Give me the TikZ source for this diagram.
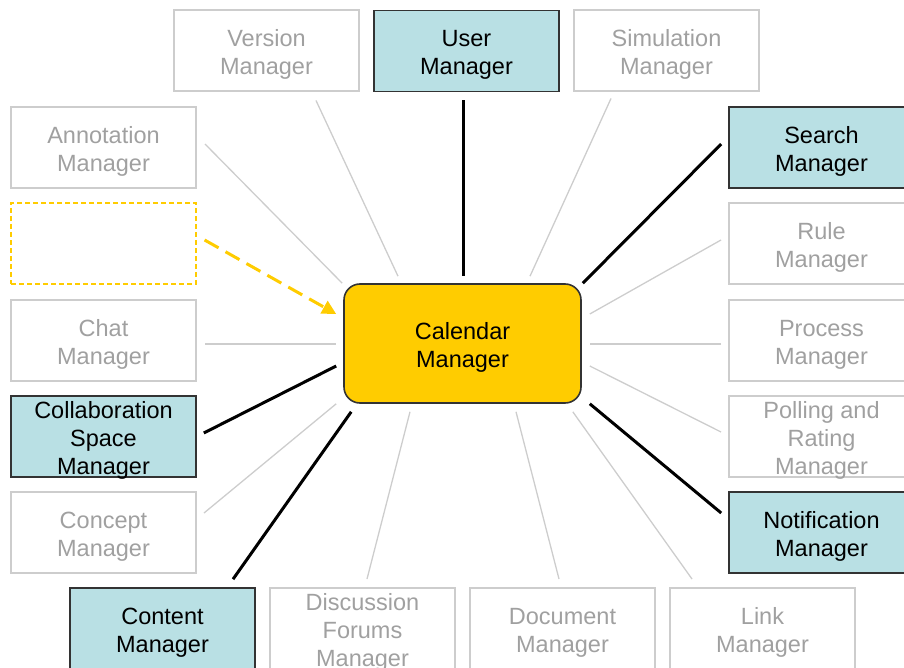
\documentclass[tikz,border=0pt]{standalone}
\usepackage{fontspec}
\setmainfont{Liberation Sans}
\usetikzlibrary{arrows.meta}
\definecolor{greytext}{RGB}{160,160,160}
\definecolor{greyline}{RGB}{205,205,205}
\definecolor{tealfill}{RGB}{185,224,228}
\definecolor{calyellow}{RGB}{255,204,0}
% lifts the first line so the labels sit a little lower in their boxes
\newcommand{\mgrstrut}{\rule{0pt}{12pt}}
% same for three-line labels, whose last line is smashed to keep the box size
\newcommand{\mgrtall}{\rule{0pt}{10pt}}
\begin{document}
\begin{tikzpicture}[x=0.5pt,y=-0.5pt,
    mgr/.style={rectangle,align=center,minimum width=92.5pt,minimum height=40.5pt,
      inner sep=0pt,font=\fontsize{11.75}{14}\selectfont},
    idle/.style={mgr,draw=greyline,line width=1pt,text=greytext},
    used/.style={mgr,draw=black!80,line width=0.8pt,fill=tealfill},
    faint/.style={draw=greyline,line width=0.65pt},
    strong/.style={draw=black,line width=1.5pt}]
    \useasboundingbox (0,0) rectangle (904,668);%

    \node[mgr,draw=black!80,line width=0.8pt,fill=calyellow,rounded corners=8pt,
      minimum width=118.5pt,minimum height=59.5pt] (cal) at (462.5,343.5) {\mgrstrut Calendar\\Manager};%

    \node[idle] (ver) at (266.5,51) {\mgrstrut Version\\Manager};%
    \node[used] (usr) at (466.5,51) {\mgrstrut User\\Manager};%
    \node[idle] (sim) at (666.5,51) {\mgrstrut Simulation\\Manager};%

    \node[idle] (ann) at (103.5,147.5) {\mgrstrut Annotation\\Manager};%
    \node[mgr,draw=calyellow,dashed,dash pattern=on 2.5pt off 1.5pt,line width=0.6pt] (blank) at (103.5,243.5) {};%
    \node[idle] (chat) at (103.5,340.5) {\mgrstrut Chat\\Manager};%
    \node[used] (collab) at (103.5,436.5) {\mgrtall Collaboration\\Space\\\smash{Manager}};%
    \node[idle] (concept) at (103.5,532.5) {\mgrstrut Concept\\Manager};%

    \node[used] (search) at (821.5,147.5) {\mgrstrut Search\\Manager};%
    \node[idle] (rule) at (821.5,243.5) {\mgrstrut Rule\\Manager};%
    \node[idle] (process) at (821.5,340.5) {\mgrstrut Process\\Manager};%
    \node[idle] (polling) at (821.5,436.5) {\mgrtall Polling and\\Rating\\\smash{Manager}};%
    \node[used] (notif) at (821.5,532.5) {\mgrstrut Notification\\Manager};%

    \node[used] (content) at (162.5,628.5) {\mgrstrut Content\\Manager};%
    \node[idle] (disc) at (362.5,628.5) {\mgrtall Discussion\\Forums\\\smash{Manager}};%
    \node[idle] (doc) at (562.5,628.5) {\mgrstrut Document\\Manager};%
    \node[idle] (link) at (762.5,628.5) {\mgrstrut Link\\Manager};%

    % top row
    \draw[faint] ([shift={(49.5,8)}]ver.south) -- ([shift={(-64.5,-7)}]cal.north);%
    \draw[strong] ([shift={(-3.5,8)}]usr.south) -- ([shift={(0.5,-7)}]cal.north);%
    \draw[faint] ([shift={(-55.5,6)}]sim.south) -- ([shift={(67.5,-7)}]cal.north);%

    % left column
    \draw[faint] ([shift={(8,-3.5)}]ann.east) -- ([shift={(-1,0)}]cal.north west);%
    \draw[calyellow,line width=1.5pt,dash pattern=on 8pt off 4pt,
      -{Triangle[length=7pt,width=7pt]}] ([shift={(8,-3.5)}]blank.east) -- ([shift={(-7,-29.5)}]cal.west);%
    \draw[faint] ([shift={(8,3.5)}]chat.east) -- ([shift={(-7,0.5)}]cal.west);%
    \draw[strong] ([shift={(7,-3.5)}]collab.east) -- ([shift={(-7,22.5)}]cal.west);%
    \draw[faint] ([shift={(7,-19.5)}]concept.east) -- ([shift={(-7,0)}]cal.south west);%

    % right column
    \draw[strong] ([shift={(-7,-3.5)}]search.west) -- ([shift={(1,0)}]cal.north east);%
    \draw[faint] ([shift={(-7,-3.5)}]rule.west) -- ([shift={(8,-29.5)}]cal.east);%
    \draw[faint] ([shift={(-7,3.5)}]process.west) -- ([shift={(8,0.5)}]cal.east);%
    \draw[faint] ([shift={(-7,-4.5)}]polling.west) -- ([shift={(8,22.5)}]cal.east);%
    \draw[strong] ([shift={(-7,-19.5)}]notif.west) -- ([shift={(8,0)}]cal.south east);%

    % bottom row
    \draw[strong] ([shift={(70.5,-8)}]content.north) -- ([shift={(8,8)}]cal.south west);%
    \draw[faint] ([shift={(4.5,-8)}]disc.north) -- ([shift={(-52.5,8)}]cal.south);%
    \draw[faint] ([shift={(-3.5,-8)}]doc.north) -- ([shift={(53.5,8)}]cal.south);%
    \draw[faint] ([shift={(-70.5,-8)}]link.north) -- ([shift={(-9,8)}]cal.south east);%
\end{tikzpicture}
\end{document}
